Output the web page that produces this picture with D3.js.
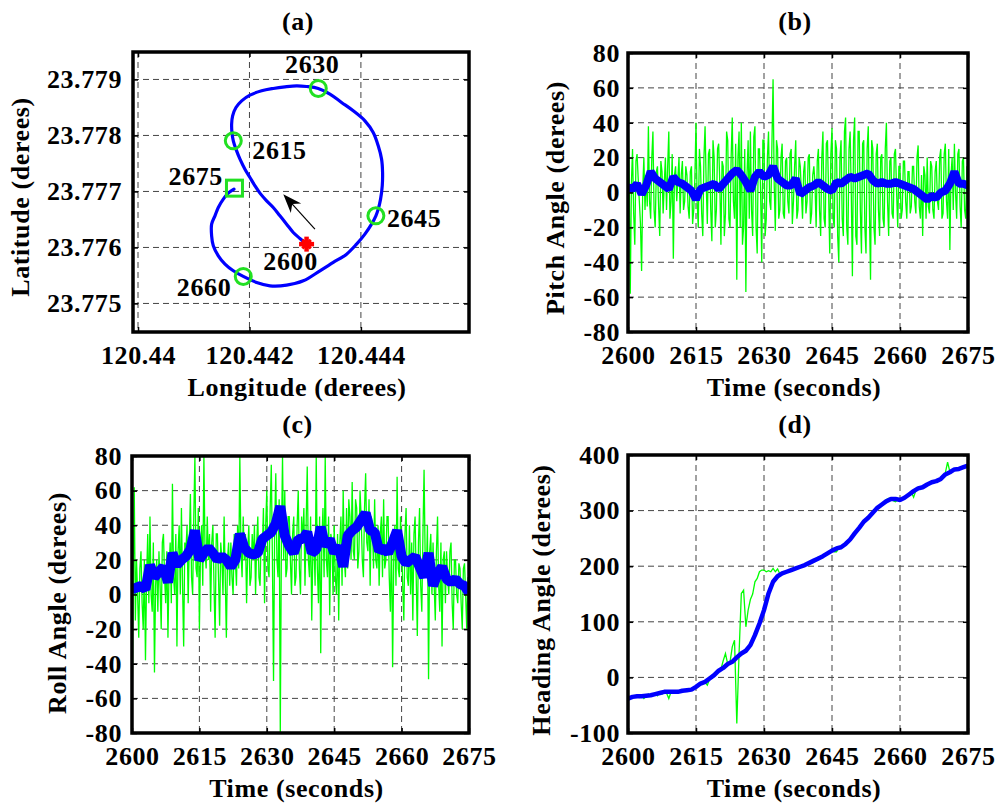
<!DOCTYPE html>
<html>
<head>
<meta charset="utf-8">
<script src="https://cdn.jsdelivr.net/npm/d3@7"></script>
<style>
  body { margin: 0; background: #fff; }
  svg { display: block; }
</style>
</head>
<body>
<svg id="chart" width="997" height="805"></svg>
<script>
// ---- data ----

// (a) trajectory, 2600 s -> 2675 s
const trackLon = [120.443025,120.442906,120.442786,120.442667,120.442547,120.442427,120.442308,120.442188,120.442099,120.442009,
  120.441919,120.441830,120.441758,120.441710,120.441686,120.441680,120.441698,120.441758,120.441860,120.442009,
  120.442218,120.442427,120.442637,120.442846,120.443025,120.443235,120.443444,120.443653,120.443862,120.444072,
  120.444221,120.444311,120.444371,120.444389,120.444383,120.444353,120.444311,120.444269,120.444191,120.444072,
  120.443922,120.443743,120.443504,120.443265,120.442966,120.442667,120.442368,120.442129,120.441889,120.441710,
  120.441561,120.441441,120.441351,120.441321,120.441321,120.441381,120.441441,120.441531,120.441620,120.441722];
const trackLat = [23.776059,23.776160,23.776267,23.776416,23.776565,23.776714,23.776833,23.776970,23.777101,23.777249,
  23.777398,23.777577,23.777755,23.777904,23.778053,23.778202,23.778351,23.778499,23.778618,23.778720,
  23.778797,23.778839,23.778868,23.778886,23.778874,23.778839,23.778738,23.778589,23.778440,23.778261,
  23.778053,23.777815,23.777577,23.777339,23.777101,23.776863,23.776684,23.776565,23.776416,23.776238,
  23.776059,23.775880,23.775732,23.775583,23.775404,23.775327,23.775315,23.775374,23.775482,23.775583,
  23.775702,23.775851,23.776029,23.776208,23.776416,23.776565,23.776714,23.776863,23.776970,23.777041];
const markTimes = ["2615", "2630", "2645", "2660"];
const markIndex = [13, 25, 37, 48];
const arrowLon = [120.443175, 120.442607];
const arrowLat = [23.776327, 23.776952];

// raw (green) pitch and roll every 0.25 s, heading every 0.5 s; filtered (blue) every 1 s
const pitchRaw = [
  49,10,-58,5, 25,-12,-30,18, 22,8,-5,-18, -45,2,20,-10, 10,-8,38,-5,
  -15,20,35,-10, -20,12,15,-8, -25,18,12,-12, 5,20,-10,15, 35,-15,-5,22,
  -38,10,15,-5, 8,20,-12,10, 18,-10,-5,15, 10,-8,-15,12, 15,-18,-10,8,
  40,-5,-20,25, 15,-12,-25,20, 38,5,-18,22, 25,-10,-28,30, 20,-20,-10,25,
  28,5,-30,18, 15,-25,-12,35, 30,-15,-20,20, 43,-5,-15,28, -50,20,35,-20,
  40,-30,-20,25, -57,10,30,-15, 35,-10,-25,32, 38,-20,-35,25, 25,0,-40,30,
  30,-25,-15,20, 35,-5,-10,28, 65,5,-22,30, 25,-15,-10,20, 28,-12,-15,18,
  20,-5,-12,22, 25,-18,-5,15, 30,-15,-10,20, 15,0,-15,12, 18,-12,-5,20,
  22,-18,-12,10, 15,5,-20,18, 25,-10,-25,20, 35,-15,-20,28, 30,0,-35,22,
  37,-15,-20,30, 25,-25,-40,20, 30,-15,-25,35, 43,-20,-30,25, 35,0,-48,30,
  43,-25,-30,35, 35,-10,-35,28, 30,-20,-35,25, 38,-10,-50,30, 25,-20,-30,22,
  28,-10,-25,20, 22,-15,-20,25, 40,-5,-25,18, 20,-12,-15,22, 25,0,-20,15,
  15,-15,-10,18, 18,-5,-15,12, 12,-12,-8,15, 15,-5,-12,20, 27,-8,-15,10,
  -25,15,10,-15, 20,-8,-12,18, 15,-10,-15,12, 18,-5,-10,20, 25,-15,-12,22,
  28,-5,-15,25, -33,10,20,-10, 28,0,-15,22, 25,-8,-20,18, 20,-10,-15,15,
  12];
const pitchFilt = [3,2,5,-1,4,12,8,6,4,2, 9,6,5,3,1,-4,2,3,4,5, 2,5,8,11,13,10,6,1,9,12,
  9,10,15,8,6,4,4,8,-1,1, 3,4,6,4,2,1,6,5,7,9, 8,9,10,11,7,5,6,5,5,6,
  5,4,3,2,0,-2,-4,-2,-3,0, 1,5,12,5,5,4];

const rollRaw = [
  -80,5,62,-15, 20,0,-25,15, 25,-5,-20,20, -38,10,35,-5, 45,0,-10,30,
  -45,5,20,-10, 25,5,-20,30, 35,10,-5,25, -25,15,30,-5, 64,10,0,35,
  -30,25,40,0, 50,5,-30,30, 25,40,-5,30, 58,10,0,45, 80,15,10,50,
  -20,25,40,5, 80,25,15,45, 20,35,-10,30, 40,5,-25,35, 35,10,-18,30,
  20,0,45,10, -25,20,30,5, 30,10,0,35, 20,5,40,15, 80,25,10,45,
  20,35,-5,25, 40,5,10,35, 20,40,0,30, 45,10,5,35, 25,50,-5,40,
  60,15,10,50, 75,20,-50,40, 70,20,10,55, -80,30,80,20, 60,10,15,45,
  45,20,0,35, 45,5,10,40, 60,15,0,45, 30,50,5,40, 74,20,10,45,
  -15,25,30,5, 80,15,-5,45, -34,30,50,10, 80,20,10,45, -12,35,30,0,
  40,10,0,35, -15,30,45,5, 60,20,10,50, 15,55,45,20, 65,25,20,55,
  50,15,25,60, 45,20,10,50, 70,30,25,55, 5,45,40,15, 55,20,15,40,
  5,35,45,10, 55,15,20,45, 45,10,-10,35, -42,20,40,5, 68,15,10,45,
  30,5,-15,35, 50,10,5,40, 0,30,-15,35, 45,10,-24,30, 50,5,-10,35,
  72,20,10,40, -49,25,35,0, 30,5,-15,25, 45,5,-10,30, -30,20,25,-5,
  25,10,0,25, 30,-5,-20,20, 20,0,-5,18, 15,-5,-20,15, 18,0,-20,10,
  5];
const rollFilt = [3,4,5,3,17,10,13,16,7,24, 17,20,22,26,37,20,24,27,24,20,
  22,20,16,20,35,27,24,23,24,32, 34,36,41,51,34,28,24,32,32,36,
  24,26,39,28,32,24,28,16,34,37, 39,43,47,37,36,25,27,24,30,37,
  22,18,20,22,16,10,24,5,12,16, 9,7,9,6,5,1];

const headingRaw = [-38,-37, -36,-35, -34,-36, -33,-38, -34,-30, -32,-31, -28,-33, -27,-30, -26,-28, -38,-26,
  -27,-25, -26,-24, -26,-23, -24,-22, -21,-20, -18,-14, -12,-10, -9,-14, -3,2, 5,8,
  13,15, 30,43, 24,27, 55,67, -83,43, 151,157, 91,121, 140,150, 172,178, 190,193,
  193,190, 192,190, 196,190, 195,186, 188,189, 190,192, 194,195, 196,198, 200,201, 202,204,
  206,208, 210,212, 217,215, 218,221, 223,226, 230,226, 226,233, 234,237, 242,245, 250,255,
  260,265, 270,275, 281,284, 288,292, 297,300, 305,308, 312,315, 320,322, 322,318, 316,319,
  318,321, 324,326, 329,333, 324,336, 341,338, 343,345, 348,350, 352,354, 354,356, 358,362,
  368,387, 370,372, 374,375, 376,377, 378,380, 382];
const headingFilt = [-38,-35,-34,-34,-33,-32,-30,-28,-26,-26, -26,-26,-24,-23,-22,-17,-11,-8,-2,4,
  12,17,24,28,36,43,48,58,76,97, 121,151,172,182,187,190,193,196,199,202,
  206,210,214,218,223,228,232,234,240,248, 259,269,280,287,296,305,311,317,321,321,
  319,323,329,335,340,342,347,351,353,357, 365,369,374,375,378,381];

const timeTicks = [2600, 2615, 2630, 2645, 2660, 2675];
const angleTicks = [-80, -60, -40, -20, 0, 20, 40, 60, 80];
const headingTicks = [-100, 0, 100, 200, 300, 400];
const lonTicks = [120.44, 120.442, 120.444];
const latTicks = [23.775, 23.776, 23.777, 23.778, 23.779];

// ---- drawing ----
const svg = d3.select("#chart");
const font = "'Liberation Serif','Times New Roman',Times,serif";
const fontSize = 26;
const green = "#00ff00";
const markGreen = "#22e022";
const blue = "#0000ff";

function styleText(sel) {
  return sel.attr("font-family", font).attr("font-size", fontSize)
    .attr("font-weight", "bold").attr("letter-spacing", 0.6).attr("fill", "#000");
}

function drawGrid(box, x, y, xTicks, yTicks) {
  const g = svg.append("g");
  g.selectAll(null).data(xTicks).join("line")
    .attr("x1", d => x(d)).attr("x2", d => x(d))
    .attr("y1", box.t).attr("y2", box.b)
    .attr("stroke", "#444").attr("stroke-width", 1).attr("stroke-dasharray", "6,4");
  g.selectAll(null).data(yTicks).join("line")
    .attr("x1", box.l).attr("x2", box.r)
    .attr("y1", d => y(d)).attr("y2", d => y(d))
    .attr("stroke", "#444").attr("stroke-width", 1).attr("stroke-dasharray", "6,4");
}

function drawAxes(box, x, y, xTicks, yTicks, fmtX, fmtY, padY) {
  const bottom = svg.append("g").attr("transform", `translate(0,${box.b})`)
    .call(d3.axisBottom(x).tickValues(xTicks).tickFormat(fmtX).tickSizeInner(-5).tickSizeOuter(0).tickPadding(14));
  const left = svg.append("g").attr("transform", `translate(${box.l},0)`)
    .call(d3.axisLeft(y).tickValues(yTicks).tickFormat(fmtY).tickSizeInner(-5).tickSizeOuter(0).tickPadding(padY));
  const top = svg.append("g").attr("transform", `translate(0,${box.t})`)
    .call(d3.axisTop(x).tickValues(xTicks).tickFormat("").tickSizeInner(-5).tickSizeOuter(0));
  const right = svg.append("g").attr("transform", `translate(${box.r},0)`)
    .call(d3.axisRight(y).tickValues(yTicks).tickFormat("").tickSizeInner(-5).tickSizeOuter(0));
  [bottom, left, top, right].forEach(a => {
    a.select(".domain").remove();
    a.selectAll(".tick line").attr("stroke", "#000").attr("stroke-width", 1.5);
    styleText(a.selectAll("text"));
  });
  svg.append("rect")
    .attr("x", box.l).attr("y", box.t)
    .attr("width", box.r - box.l).attr("height", box.b - box.t)
    .attr("fill", "none").attr("stroke", "#000").attr("stroke-width", 3.5);
}

function drawLabels(box, title, titleY, xLabel, xLabelY, yLabel, yLabelX, yLabelY) {
  const cx = (box.l + box.r) / 2;
  styleText(svg.append("text")).attr("x", cx - 3).attr("y", titleY)
    .attr("text-anchor", "middle").text(title);
  styleText(svg.append("text")).attr("x", cx - 4).attr("y", xLabelY)
    .attr("text-anchor", "middle").text(xLabel);
  styleText(svg.append("text"))
    .attr("transform", `translate(${yLabelX},${yLabelY}) rotate(-90)`)
    .attr("text-anchor", "middle").text(yLabel);
}

let clipCount = 0;
function clipFor(box) {
  const id = "clip" + (clipCount++);
  svg.append("clipPath").attr("id", id).append("rect")
    .attr("x", box.l).attr("y", box.t)
    .attr("width", box.r - box.l).attr("height", box.b - box.t);
  return `url(#${id})`;
}

function timePanel(box, raw, rawStep, filt, yDomain, yTicks, blueWidth, labels) {
  const x = d3.scaleLinear().domain([2600, 2675]).range([box.l, box.r]);
  const y = d3.scaleLinear().domain(yDomain).range([box.b, box.t]);
  drawGrid(box, x, y, timeTicks, yTicks);
  const g = svg.append("g").attr("clip-path", clipFor(box));
  const rawLine = d3.line().x((d, i) => x(2600 + i * rawStep)).y(d => y(d));
  const filtLine = d3.line().x((d, i) => x(2600 + i)).y(d => y(d));
  g.append("path").attr("d", rawLine(raw))
    .attr("fill", "none").attr("stroke", green).attr("stroke-width", 1.3);
  g.append("path").attr("d", filtLine(filt))
    .attr("fill", "none").attr("stroke", blue).attr("stroke-width", blueWidth)
    .attr("stroke-linejoin", "bevel");
  drawAxes(box, x, y, timeTicks, yTicks, d => String(d), d => String(d), labels.padY);
  drawLabels(box, labels.title, labels.titleY, "Time (seconds)", labels.xLabelY,
    labels.yLabel, labels.yLabelX, labels.yLabelY);
}

// ---- panel (a) ----
const boxA = {l: 133, t: 52, r: 469, b: 332};
const xA = d3.scaleLinear().domain([120.43991, 120.44594]).range([boxA.l, boxA.r]);
const yA = d3.scaleLinear().domain([23.77449, 23.77949]).range([boxA.b, boxA.t]);
drawGrid(boxA, xA, yA, lonTicks, latTicks);

const gA = svg.append("g");
const trackLine = d3.line()
  .x(i => xA(trackLon[i])).y(i => yA(trackLat[i]))
  .curve(d3.curveCatmullRom);
gA.append("path").attr("d", trackLine(d3.range(trackLon.length)))
  .attr("fill", "none").attr("stroke", blue).attr("stroke-width", 3.2)
  .attr("stroke-linejoin", "round").attr("stroke-linecap", "round");

gA.selectAll(".mk").data(markIndex).join("circle")
  .attr("cx", i => xA(trackLon[i])).attr("cy", i => yA(trackLat[i]))
  .attr("r", 8).attr("fill", "none").attr("stroke", markGreen).attr("stroke-width", 3);

const lastI = trackLon.length - 1;
gA.append("rect")
  .attr("x", xA(trackLon[lastI]) - 7.5).attr("y", yA(trackLat[lastI]) - 9)
  .attr("width", 16).attr("height", 16)
  .attr("fill", "none").attr("stroke", markGreen).attr("stroke-width", 3);

// start marker
const sx = xA(trackLon[0]), sy = yA(trackLat[0]);
[0, 45, 90, 135].forEach(a => {
  const r = a * Math.PI / 180, L = a % 90 === 0 ? 7.5 : 6;
  gA.append("line")
    .attr("x1", sx - L * Math.cos(r)).attr("y1", sy - L * Math.sin(r))
    .attr("x2", sx + L * Math.cos(r)).attr("y2", sy + L * Math.sin(r))
    .attr("stroke", "#ff0000").attr("stroke-width", a % 90 === 0 ? 4.5 : 3);
});

// direction arrow
const ax0 = xA(arrowLon[0]), ay0 = yA(arrowLat[0]);
const ax1 = xA(arrowLon[1]), ay1 = yA(arrowLat[1]);
const len = Math.hypot(ax1 - ax0, ay1 - ay0);
const ux = (ax1 - ax0) / len, uy = (ay1 - ay0) / len;
const nx = -uy, ny = ux, headL = 19, headW = 7;
gA.append("line").attr("x1", ax0).attr("y1", ay0)
  .attr("x2", ax1 - ux * 10).attr("y2", ay1 - uy * 10)
  .attr("stroke", "#000").attr("stroke-width", 1.2);
gA.append("path")
  .attr("d", d3.line()([
    [ax1, ay1],
    [ax1 - ux * headL + nx * headW, ay1 - uy * headL + ny * headW],
    [ax1 - ux * headL * 0.7, ay1 - uy * headL * 0.7],
    [ax1 - ux * headL - nx * headW, ay1 - uy * headL - ny * headW]
  ]) + "Z")
  .attr("fill", "#000");

// time labels on the trajectory
const markLabelPos = [
  {dx: 19, dy: 18, anchor: "start"},
  {dx: -6, dy: -15, anchor: "middle"},
  {dx: 11, dy: 11, anchor: "start"},
  {dx: -12, dy: 20, anchor: "end"}
];
markIndex.forEach((idx, k) => {
  styleText(gA.append("text"))
    .attr("x", xA(trackLon[idx]) + markLabelPos[k].dx)
    .attr("y", yA(trackLat[idx]) + markLabelPos[k].dy)
    .attr("text-anchor", markLabelPos[k].anchor).text(markTimes[k]);
});
styleText(gA.append("text"))
  .attr("x", xA(trackLon[lastI]) - 11).attr("y", yA(trackLat[lastI]) - 4)
  .attr("text-anchor", "end").text("2675");
styleText(gA.append("text"))
  .attr("x", sx - 16).attr("y", sy + 26)
  .attr("text-anchor", "middle").text("2600");

drawAxes(boxA, xA, yA, lonTicks, latTicks, d3.format(".3~f"), d3.format(".3f"), 11);
drawLabels(boxA, "(a)", 30, "Longitude (derees)", 396, "Latitude (derees)", 29, 197);

// ---- panels (b), (c), (d) ----
timePanel({l: 628, t: 53, r: 968, b: 332}, pitchRaw, 0.25, pitchFilt, [-80, 80], angleTicks, 8,
  {title: "(b)", titleY: 30, xLabelY: 396, yLabel: "Pitch Angle (derees)", yLabelX: 564, yLabelY: 198, padY: 8});
timePanel({l: 132, t: 456, r: 469, b: 733}, rollRaw, 0.25, rollFilt, [-80, 80], angleTicks, 10,
  {title: "(c)", titleY: 433, xLabelY: 797, yLabel: "Roll Angle (derees)", yLabelX: 66, yLabelY: 603, padY: 10});
timePanel({l: 628, t: 455, r: 968, b: 733}, headingRaw, 0.5, headingFilt, [-100, 400], headingTicks, 4.5,
  {title: "(d)", titleY: 433, xLabelY: 797, yLabel: "Heading Angle (derees)", yLabelX: 550, yLabelY: 600, padY: 8});
</script>
</body>
</html>
